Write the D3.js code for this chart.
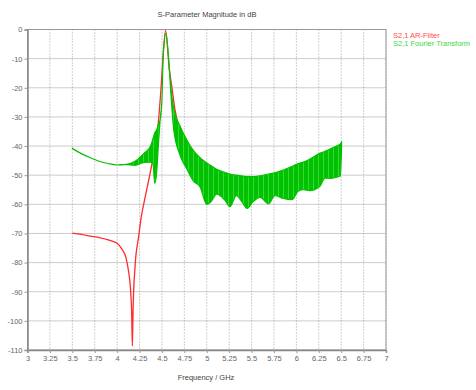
<!DOCTYPE html>
<html>
<head>
<meta charset="utf-8">
<script src="https://cdn.jsdelivr.net/npm/d3@7"></script>
<style>
  body { margin: 0; background: #fff; }
  text { font-family: "Liberation Sans", Arial, sans-serif; }
</style>
</head>
<body>
<script>
// S2,1 from the AR filter (freq in GHz, magnitude in dB)
var redFreq = [3.5, 3.6, 3.7, 3.8, 3.9, 4.0, 4.05, 4.1, 4.125, 4.15, 4.163, 4.17, 4.178, 4.2, 4.24, 4.27, 4.31, 4.4, 4.45, 4.49, 4.51, 4.54, 4.583, 4.61, 4.646, 4.7, 4.8, 4.9, 5.0, 5.25, 5.5, 5.75, 6.0, 6.25, 6.5];
var redDb   = [-69.9, -70.3, -70.9, -71.4, -72.2, -73.4, -75.2, -78.5, -82.5, -89.4, -98, -108.6, -96, -81.4, -71.1, -64.2, -58.0, -44.2, -35, -20, -10.5, -0.3, -13.9, -19.6, -27.6, -35, -42, -46, -49, -52, -53, -52, -50, -46.5, -42];

// S2,1 from the Fourier transform: upper and lower envelope of the ripple band
var greenFreq = [3.5, 3.6, 3.7, 3.8, 3.9, 4.0, 4.1, 4.2, 4.3, 4.37, 4.4, 4.42, 4.44, 4.46, 4.48, 4.5, 4.515, 4.546, 4.57, 4.6, 4.63, 4.7, 4.78, 4.85, 4.925, 5.0, 5.05, 5.11, 5.2, 5.26, 5.33, 5.4, 5.45, 5.52, 5.595, 5.69, 5.76, 5.855, 5.95, 6.02, 6.08, 6.15, 6.26, 6.32, 6.375, 6.45, 6.49, 6.505];
var greenHi   = [-40.8, -42.6, -44.0, -45.2, -46.0, -46.5, -46.3, -45.2, -42.5, -40.2, -37.5, -35.5, -34.5, -32.5, -31, -24, -8.2, -1.3, -8.2, -20, -27, -33, -38, -41.5, -44, -45.8, -46.8, -48, -49, -49.6, -50, -50.3, -50.5, -50.5, -50.2, -49.6, -49.2, -48.2, -47, -46, -45.5, -44.5, -42.5, -41.8, -41, -40, -39.3, -38.5];
var greenLo   = [-40.8, -42.6, -44.0, -45.2, -46.0, -46.5, -46.3, -46.6, -45.6, -45.5, -46, -52.8, -49.4, -40, -31, -24, -8.2, -1.3, -8.2, -22, -34, -43, -48, -52, -54, -60, -59, -56.5, -58.5, -60.8, -57, -59.5, -61.4, -59, -57.6, -59.8, -57, -58, -58.4, -55.5, -55, -55.3, -53.9, -51, -51.1, -50.7, -50.3, -39.6];

var xTicks = [3, 3.25, 3.5, 3.75, 4, 4.25, 4.5, 4.75, 5, 5.25, 5.5, 5.75, 6, 6.25, 6.5, 6.75, 7];
var yTicks = [0, -10, -20, -30, -40, -50, -60, -70, -80, -90, -100, -110];

var width = 476, height = 390;
var margin = {left: 27.5, right: 90, top: 29.5, bottom: 40};

var x = d3.scaleLinear().domain([3, 7]).range([margin.left, width - margin.right]);
var y = d3.scaleLinear().domain([-110, 0]).range([height - margin.bottom, margin.top]);

var svg = d3.select("body").append("svg")
    .attr("width", width)
    .attr("height", height);

// grid
var grid = svg.append("g").attr("class", "grid");
grid.selectAll("line.vx").data(xTicks).enter().append("line")
    .attr("x1", function(d){ return x(d); }).attr("x2", function(d){ return x(d); })
    .attr("y1", y(0)).attr("y2", y(-110))
    .attr("stroke", "#a0a0a0").attr("stroke-dasharray", "1,2");
grid.selectAll("line.hy").data(yTicks).enter().append("line")
    .attr("y1", function(d){ return y(d); }).attr("y2", function(d){ return y(d); })
    .attr("x1", x(3)).attr("x2", x(7))
    .attr("stroke", "#999").attr("stroke-dasharray", "1,1");

// frame
svg.append("rect")
    .attr("x", x(3)).attr("y", y(0))
    .attr("width", x(7) - x(3)).attr("height", y(-110) - y(0))
    .attr("fill", "none").attr("stroke", "#999");

// axes
var xAxis = d3.axisBottom(x).tickValues(xTicks).tickSize(3).tickPadding(3)
    .tickFormat(function(d){ return String(d); });
var yAxis = d3.axisLeft(y).tickValues(yTicks).tickSize(3).tickPadding(2)
    .tickFormat(function(d){ return String(d); });

var gx = svg.append("g").attr("transform", "translate(0," + y(-110) + ")").call(xAxis);
var gy = svg.append("g").attr("transform", "translate(" + x(3) + ",0)").call(yAxis);
[gx, gy].forEach(function(g){
  g.select(".domain").attr("stroke", "#888").attr("stroke-width", 1.5);
  g.selectAll(".tick line").attr("stroke", "#999");
  g.selectAll(".tick text").attr("fill", "#666").attr("font-size", 7.5)
    .attr("font-family", "Liberation Sans, Arial, sans-serif");
});

// stripe pattern for the ripple band
var defs = svg.append("defs");
var pat = defs.append("pattern").attr("id", "ripple")
    .attr("patternUnits", "userSpaceOnUse").attr("width", 5).attr("height", 4);
pat.append("rect").attr("width", 5).attr("height", 4).attr("fill", "#00c200");
pat.append("rect").attr("x", 3).attr("width", 1).attr("height", 4).attr("fill", "#38d638");

// red curve
var redLine = d3.line()
    .x(function(d, i){ return x(redFreq[i]); })
    .y(function(d){ return y(d); })
    .curve(d3.curveMonotoneX);
svg.append("path").attr("d", redLine(redDb))
    .attr("fill", "none").attr("stroke", "#ff2a2a").attr("stroke-width", 1.3);

// green band
var greenArea = d3.area()
    .x(function(d, i){ return x(greenFreq[i]); })
    .y0(function(d, i){ return y(greenLo[i]); })
    .y1(function(d){ return y(d); })
    .curve(d3.curveMonotoneX);
svg.append("path").attr("d", greenArea(greenHi))
    .attr("fill", "url(#ripple)").attr("stroke", "#00c200").attr("stroke-width", 1.2)
    .attr("stroke-linejoin", "round");

// title and labels
svg.append("text").attr("x", 207).attr("y", 17).attr("text-anchor", "middle")
    .attr("font-size", 7.5).attr("fill", "#444").text("S-Parameter Magnitude in dB");
svg.append("text").attr("x", 206).attr("y", 380).attr("text-anchor", "middle")
    .attr("font-size", 7.5).attr("fill", "#444").text("Frequency / GHz");

// legend
svg.append("text").attr("x", 393).attr("y", 37.5)
    .attr("font-size", 7.5).attr("fill", "#ff4a4a").text("S2,1 AR-Filter");
svg.append("text").attr("x", 393).attr("y", 46)
    .attr("font-size", 7.5).attr("fill", "#3cd83c").text("S2,1 Fourier Transform");
</script>
</body>
</html>
